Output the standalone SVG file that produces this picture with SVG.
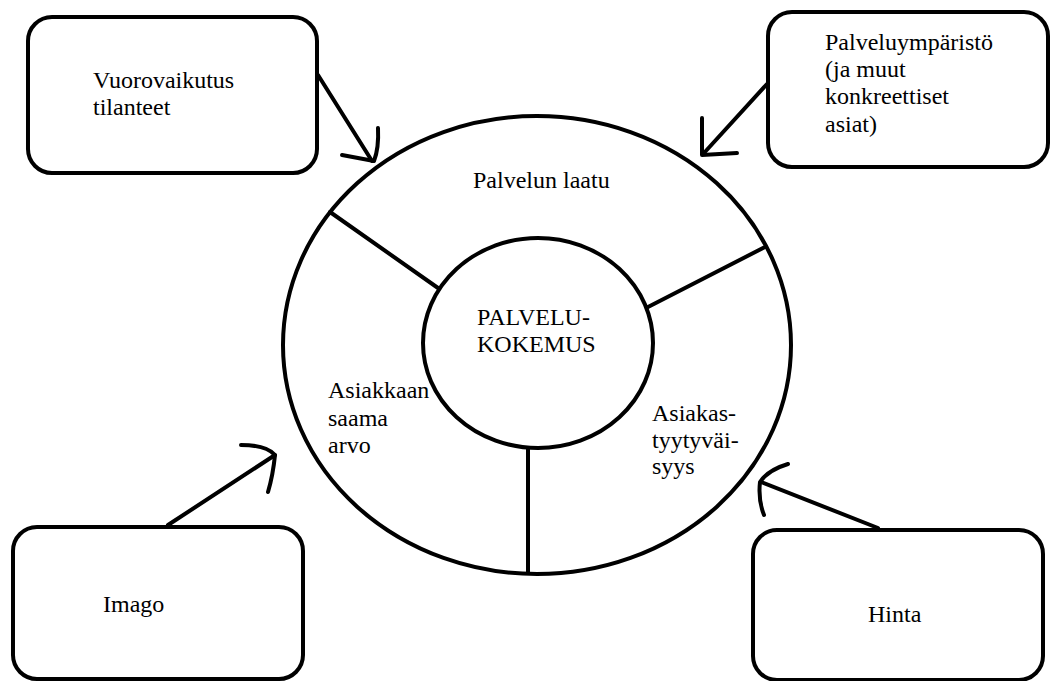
<svg xmlns="http://www.w3.org/2000/svg" width="1052" height="681" viewBox="0 0 1052 681">
  <style>
    .box { fill: #fff; stroke: #000; stroke-width: 4; }
    .ring { fill: none; stroke: #000; stroke-width: 4; }
    .spoke { stroke: #000; stroke-width: 4; stroke-linecap: round; }
    .arrow { fill: none; stroke: #000; stroke-width: 4; stroke-linecap: round; stroke-linejoin: round; }
    .lbl { font-family: "Liberation Serif", "Times New Roman", Tinos, "DejaVu Serif", serif; font-size: 24px; fill: #000; }
  </style>
  <rect width="1052" height="681" fill="#fff"/>

  <!-- central diagram: outer ring, inner core and dividing spokes -->
  <g id="palvelukokemus">
    <ellipse class="ring" cx="537" cy="345" rx="254" ry="229"/>
    <line class="spoke" x1="330" y1="212" x2="438" y2="288"/>
    <line class="spoke" x1="765" y1="247" x2="648" y2="307"/>
    <line class="spoke" x1="528" y1="448" x2="528" y2="573"/>
    <ellipse class="ring" cx="538" cy="343" rx="115" ry="105"/>
    <text class="lbl" x="477" y="325">PALVELU-</text>
    <text class="lbl" x="477" y="352">KOKEMUS</text>
  </g>

  <g id="palvelun-laatu">
    <text class="lbl" x="473" y="188">Palvelun laatu</text>
  </g>

  <g id="asiakkaan-arvo">
    <text class="lbl" x="328" y="398">Asiakkaan</text>
    <text class="lbl" x="328" y="426">saama</text>
    <text class="lbl" x="328" y="453">arvo</text>
  </g>

  <g id="asiakastyytyvaisyys">
    <text class="lbl" x="652" y="421">Asiakas-</text>
    <text class="lbl" x="652" y="448">tyytyväi-</text>
    <text class="lbl" x="652" y="474">syys</text>
  </g>

  <!-- surrounding factor boxes -->
  <g id="vuorovaikutus">
    <rect class="box" x="28" y="17" width="289" height="156" rx="24"/>
    <text class="lbl" x="93" y="88">Vuorovaikutus</text>
    <text class="lbl" x="93" y="115">tilanteet</text>
  </g>

  <g id="palveluymparisto">
    <rect class="box" x="768" y="12" width="280" height="155" rx="24"/>
    <text class="lbl" x="825" y="50">Palveluympäristö</text>
    <text class="lbl" x="825" y="77">(ja muut</text>
    <text class="lbl" x="825" y="104">konkreettiset</text>
    <text class="lbl" x="825" y="132">asiat)</text>
  </g>

  <g id="imago">
    <rect class="box" x="13" y="527" width="290" height="152" rx="24"/>
    <text class="lbl" x="103" y="612">Imago</text>
  </g>

  <g id="hinta">
    <rect class="box" x="753" y="530" width="290" height="150" rx="24"/>
    <text class="lbl" x="868" y="622">Hinta</text>
  </g>

  <!-- hand-drawn arrows pointing at the ring -->
  <g id="connectors">
    <path class="arrow" d="M318,75 L372,161"/>
    <path class="arrow" d="M378,128 Q379,148 374,161 L342,155"/>

    <path class="arrow" d="M767,84 L704,153"/>
    <path class="arrow" d="M702,118 L702,155 L737,153"/>

    <path class="arrow" d="M168,525 L275,455"/>
    <path class="arrow" d="M241,445 Q266,445 275,455 Q273,475 268,492"/>

    <path class="arrow" d="M878,528 L761,482"/>
    <path class="arrow" d="M788,464 Q768,470 760,482 Q758,500 764,515"/>
  </g>
</svg>
